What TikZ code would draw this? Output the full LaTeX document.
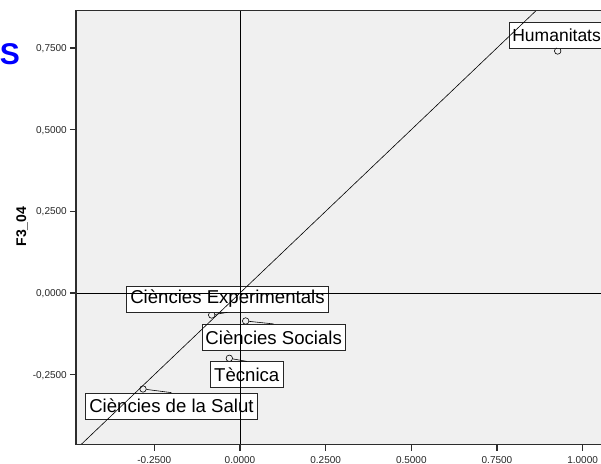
\documentclass[tikz,border=0pt]{standalone}
\usepackage{fontspec}
\setmainfont{Liberation Sans}
\usepackage{xcolor}
\usetikzlibrary{positioning}
\definecolor{plotbg}{RGB}{240,240,240}
\definecolor{frameclr}{RGB}{45,45,45}

\begin{document}
\begin{tikzpicture}[x=342.6pt, y=326.7pt,
  obs/.style={draw, circle, fill=plotbg, inner sep=0pt, minimum size=6.5pt, line width=.6pt},
  tag/.style={draw=black!85, fill=white, line width=.7pt, inner xsep=3.6pt, inner ysep=0pt,
    minimum height=26pt, font=\fontsize{18.6}{20}\selectfont},
  tickln/.style={frameclr, line width=1.2pt},
  ticklbl/.style={font=\fontsize{10}{10}\selectfont, text=black!85, inner sep=0pt}]
  \useasboundingbox (-0.7005,-0.5234) rectangle (1.0537,0.8968);
  \clip (-0.7005,-0.5234) rectangle (1.0537,0.8968);
  \fill[plotbg] (-0.4787,-0.4637) rectangle (1.2,0.8647);

  % observations
  \node[obs] (hum) at (0.9273,0.7407) {};
  \node[obs] (exp) at (-0.0826,-0.0673) {};
  \node[obs] (soc) at (0.0166,-0.0857) {};
  \node[obs] (tec) at (-0.0312,-0.1999) {};
  \node[obs] (sal) at (-0.2831,-0.2938) {};

  % labels
  \node[tag, anchor=west, inner xsep=2.5pt, font=\fontsize{17.5}{19}\selectfont] (humT) at (0.7866,0.7888) {Humanitats};
  \node[tag] (expT) at (-0.0365,-0.0184) {Ciències Experimentals};
  \node[tag] (socT) at (0.0984,-0.1356) {Ciències Socials};
  \node[tag] (tecT) at (0.0198,-0.2501) {Tècnica};
  \node[tag] (salT) at (-0.2,-0.3459) {Ciències de la Salut};
  \draw[line width=.6pt] (hum) -- (humT.south);
  \draw[line width=.6pt] (exp) -- (expT.south);
  \draw[line width=.6pt] (soc) -- (socT.north);
  \draw[line width=.6pt] (tec) -- (tecT.north);
  \draw[line width=.6pt] (sal) -- (salT.north);

  % reference lines
  \draw[line width=.6pt] (0,-0.4637) -- (0,0.8647);
  \draw[line width=.6pt] (-0.4787,0) -- (1.2,0);
  \draw[line width=.6pt] (-0.4637,-0.4637) -- (0.8647,0.8647);

  % frame and ticks
  \draw[frameclr, line width=1.2pt] (1.2,0.8647) -- (-0.4787,0.8647) -- (-0.4787,-0.4637) -- (1.2,-0.4637);
  \foreach \v/\t [count=\i] in {0.75/{0,7500}, 0.5/{0,5000}, 0.25/{0,2500}, 0/{0,0000}, -0.25/{-0,2500}} {
    \draw[tickln] (-0.4962,\v) -- (-0.4787,\v);
    \node[ticklbl, anchor=base east, yshift=-3.4pt] (yl\i) at (-0.505,\v) {\t};
  }
  \foreach \v/\t [count=\i] in {-0.25/-0.2500, 0/0.0000, 0.25/0.2500, 0.5/0.5000, 0.75/0.7500, 1/1.0000} {
    \draw[tickln] (\v,-0.4637) -- (\v,-0.4836);
    \node[ticklbl, anchor=base] (xl\i) at (\v,-0.5215) {\t};
  }

  \node[font=\fontsize{30}{31}\selectfont\bfseries, text=blue, anchor=base east, inner sep=0pt] (ttl) at (-0.6422,0.7009) {S};
  \node[rotate=90, font=\bfseries\fontsize{14}{14}\selectfont, inner sep=0pt] (ylab) at (-0.6363,0.2035) {F3\_04};
\end{tikzpicture}
\end{document}
